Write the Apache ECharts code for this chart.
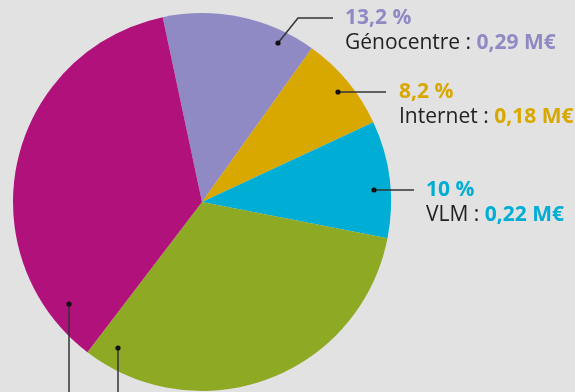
<!DOCTYPE html>
<html>
<head>
<meta charset="utf-8">
<script src="https://cdn.jsdelivr.net/npm/echarts@6/dist/echarts.min.js"></script>
<style>
  html, body { margin: 0; padding: 0; background: #e2e2e2; }
  #chart { width: 575px; height: 392px; }
</style>
</head>
<body>
<div id="chart"></div>
<script>
// parts of the budget, clockwise from the top
const names = ['Génocentre', 'Internet', 'VLM', '', '']
const percents = [13.2, 8.2, 10, 32.3, 36.3]
const amounts = ['0,29', '0,18', '0,22', '', '']
const colors = ['#8f8ac4', '#d8a800', '#00aed5', '#8ea923', '#b0117b']

// leader lines: dot inside the slice, then the path out to the label
const leaders = [
  { pts: [[278, 43], [298, 18], [333, 18]], lx: 345, ly: 18 },
  { pts: [[338, 92], [386, 92]], lx: 399, ly: 92 },
  { pts: [[374, 190], [414, 190]], lx: 426, ly: 190 },
  { pts: [[118, 348], [118, 430]], lx: 118, ly: 440 },
  { pts: [[69, 304], [69, 430]], lx: 69, ly: 440 }
]

const chart = echarts.init(document.getElementById('chart'))

const fmtPct = p => String(p).replace('.', ',') + ' %'

const option = {
  backgroundColor: '#e2e2e2',
  textStyle: { fontFamily: 'Open Sans' },
  series: [
    {
      type: 'pie',
      center: [202, 202],
      radius: 189,
      startAngle: 102,
      clockwise: true,
      silent: true,
      avoidLabelOverlap: false,
      data: percents.map((p, i) => ({
        name: names[i],
        value: p,
        itemStyle: { color: colors[i] },
        label: {
          formatter: names[i]
            ? `{p|${fmtPct(p)}}\n{n|${names[i]} : }{v|${amounts[i]} M€}`
            : `{p|${fmtPct(p)}}`,
          rich: {
            p: { fontFamily: 'Open Sans', fontWeight: 'bold', fontSize: 21, lineHeight: 25, color: colors[i] },
            n: { fontFamily: 'Open Sans', fontSize: 21, lineHeight: 25, color: '#222' },
            v: { fontFamily: 'Open Sans', fontWeight: 'bold', fontSize: 21, lineHeight: 25, color: colors[i] }
          }
        }
      })),
      label: { show: true, position: 'outside' },
      labelLine: { show: false },
      labelLayout: params => {
        const l = leaders[params.dataIndex]
        return {
          x: l.lx,
          y: l.ly - 12.5,
          align: 'left',
          verticalAlign: 'top'
        }
      }
    }
  ],
  graphic: [
    ...leaders.map(l => ({
      type: 'polyline',
      shape: { points: l.pts },
      style: { stroke: '#333', lineWidth: 1.5, fill: null },
      z: 100
    })),
    ...leaders.map(l => ({
      type: 'circle',
      shape: { cx: l.pts[0][0], cy: l.pts[0][1], r: 2.6 },
      style: { fill: '#111' },
      z: 101
    }))
  ]
}

chart.setOption(option)
</script>
</body>
</html>
